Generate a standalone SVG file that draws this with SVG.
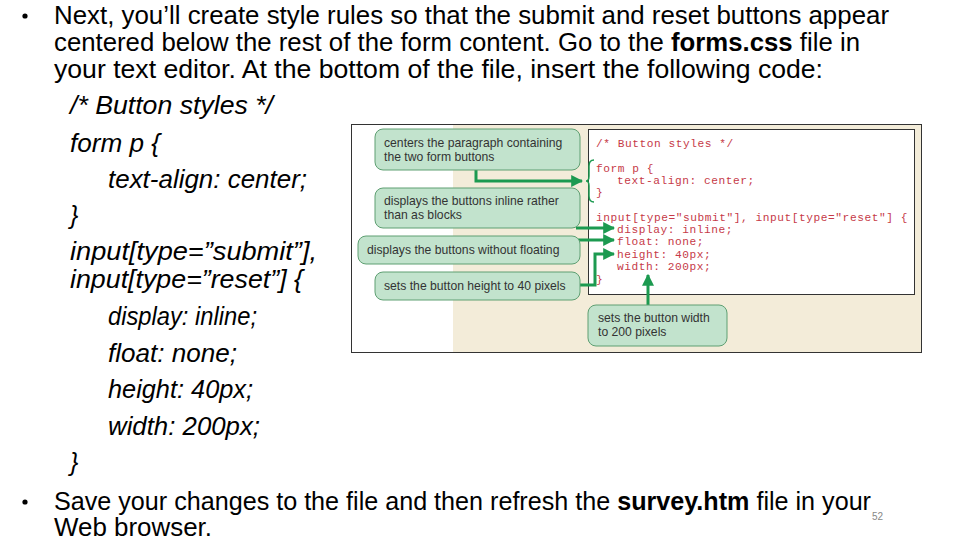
<svg xmlns="http://www.w3.org/2000/svg" width="960" height="540" viewBox="0 0 960 540">
<defs>
<style>
.t{font-family:"Liberation Sans",Arial,sans-serif;font-size:25px;fill:#000}
.i{font-family:"Liberation Sans",Arial,sans-serif;font-size:25px;font-style:italic;fill:#000}
.b{font-weight:bold}
.c{font-family:"Liberation Sans",Arial,sans-serif;font-size:12.2px;fill:#333}
.m{font-family:"Liberation Mono","DejaVu Sans Mono",monospace;font-size:11.2px;letter-spacing:0.54px;fill:#c63a48}
.box{fill:#c2e3cd;stroke:#5e9f72;stroke-width:1}
.ln{fill:none;stroke:#1c9a50;stroke-width:3}
</style>
<marker id="ah" viewBox="0 0 10 10" refX="9" refY="5" markerWidth="4" markerHeight="4" orient="auto" markerUnits="strokeWidth">
<path d="M0,0 L10,5 L0,10 z" fill="#1c9a50"/>
</marker>
</defs>
<rect width="960" height="540" fill="#fff"/>

<g id="slide-text">
<circle cx="25" cy="16" r="2.6" fill="#000"/>
<text class="t" x="54" y="24" textLength="835" lengthAdjust="spacingAndGlyphs">Next, you’ll create style rules so that the submit and reset buttons appear</text>
<text class="t" x="54" y="51" textLength="806" lengthAdjust="spacingAndGlyphs">centered below the rest of the form content. Go to the <tspan class="b">forms.css</tspan> file in</text>
<text class="t" x="54" y="78" textLength="769" lengthAdjust="spacingAndGlyphs">your text editor. At the bottom of the file, insert the following code:</text>
<text class="i" x="70" y="114" textLength="203" lengthAdjust="spacingAndGlyphs">/* Button styles */</text>
<text class="i" x="70" y="152" textLength="90" lengthAdjust="spacingAndGlyphs">form p {</text>
<text class="i" x="108" y="188" textLength="199" lengthAdjust="spacingAndGlyphs">text-align: center;</text>
<text class="i" x="70" y="224">}</text>
<text class="i" x="70" y="260" textLength="247" lengthAdjust="spacingAndGlyphs">input[type=”submit”],</text>
<text class="i" x="70" y="288" textLength="233" lengthAdjust="spacingAndGlyphs">input[type=”reset”] {</text>
<text class="i" x="108" y="325" textLength="149" lengthAdjust="spacingAndGlyphs">display: inline;</text>
<text class="i" x="108" y="362" textLength="129" lengthAdjust="spacingAndGlyphs">float: none;</text>
<text class="i" x="108" y="398" textLength="145" lengthAdjust="spacingAndGlyphs">height: 40px;</text>
<text class="i" x="108" y="435" textLength="152" lengthAdjust="spacingAndGlyphs">width: 200px;</text>
<text class="i" x="70" y="471">}</text>
<circle cx="25" cy="502" r="2.6" fill="#000"/>
<text class="t" x="54" y="510" textLength="817" lengthAdjust="spacingAndGlyphs">Save your changes to the file and then refresh the <tspan class="b">survey.htm</tspan> file in your</text>
<text class="t" x="54" y="536" textLength="158" lengthAdjust="spacingAndGlyphs">Web browser.</text>
<text x="872" y="520" font-family="Liberation Sans,Arial,sans-serif" font-size="10" fill="#888">52</text>
</g>

<g id="figure">
<rect x="351.5" y="124.5" width="570" height="228" fill="#fff" stroke="#333" stroke-width="1"/>
<rect x="453" y="125" width="468" height="227" fill="#f3ecd9"/>
<rect x="588.5" y="129.5" width="326" height="165" fill="#fff" stroke="#333" stroke-width="1"/>
</g>

<g id="code">
<text class="m" x="596" y="147">/* Button styles */</text>
<text class="m" x="596" y="172">form p {</text>
<text class="m" x="617" y="184">text-align: center;</text>
<text class="m" x="596" y="196">}</text>
<text class="m" x="596" y="221">input[type="submit"], input[type="reset"] {</text>
<text class="m" x="617" y="233">display: inline;</text>
<text class="m" x="617" y="245">float: none;</text>
<text class="m" x="617" y="258">height: 40px;</text>
<text class="m" x="617" y="270">width: 200px;</text>
<text class="m" x="596" y="283">}</text>
</g>

<g id="connectors">
<path class="ln" d="M476,170 V181 H582" marker-end="url(#ah)"/>
<path d="M594,160 Q589,160 589,166 V176 Q589,181 586,181 Q589,181 589,186 V196 Q589,202 594,202" fill="none" stroke="#1c9a50" stroke-width="1.5"/>
<path class="ln" d="M576,228 H614" marker-end="url(#ah)"/>
<path class="ln" d="M578,240 H614" marker-end="url(#ah)"/>
<path class="ln" d="M580,285 H595 V254 H614" marker-end="url(#ah)"/>
<path class="ln" d="M648,305 V275" marker-end="url(#ah)"/>
</g>

<g id="callout-center">
<rect class="box" x="375" y="129" width="205" height="41" rx="8"/>
<text class="c" x="384" y="147">centers the paragraph containing</text>
<text class="c" x="384" y="161">the two form buttons</text>
</g>
<g id="callout-inline">
<rect class="box" x="375" y="188" width="205" height="40" rx="8"/>
<text class="c" x="384" y="205">displays the buttons inline rather</text>
<text class="c" x="384" y="219">than as blocks</text>
</g>
<g id="callout-float">
<rect class="box" x="358" y="236" width="222" height="28" rx="8"/>
<text class="c" x="367" y="254">displays the buttons without floating</text>
</g>
<g id="callout-height">
<rect class="box" x="375" y="272" width="205" height="28" rx="8"/>
<text class="c" x="384" y="290">sets the button height to 40 pixels</text>
</g>
<g id="callout-width">
<rect class="box" x="588" y="305" width="139" height="41" rx="8"/>
<text class="c" x="598" y="322">sets the button width</text>
<text class="c" x="598" y="336">to 200 pixels</text>
</g>
</svg>
